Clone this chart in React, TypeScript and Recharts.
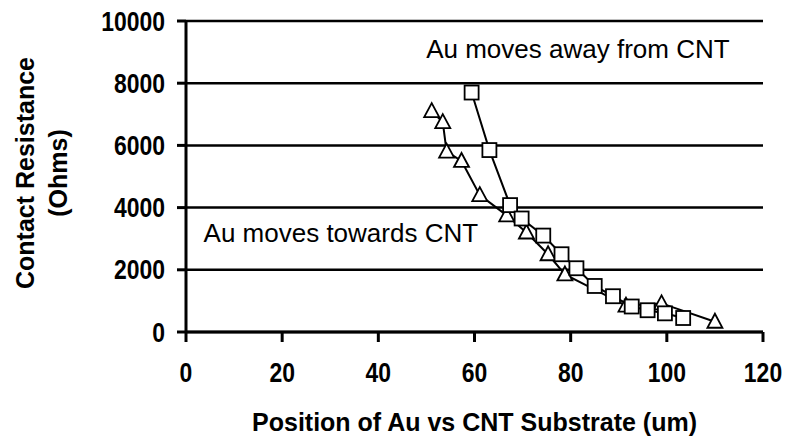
import React from 'react';
import { ScatterChart, Scatter, XAxis, YAxis, CartesianGrid, ReferenceDot } from 'recharts';

// Au moves towards CNT (triangles)
const towardsX = [51.1, 53.4, 54.2, 57.3, 61.1, 66.7, 70.8, 75.3, 78.8, 91.5, 98.9, 110];
const towardsY = [7100, 6750, 5800, 5500, 4400, 3750, 3200, 2500, 1850, 850, 920, 330];

// Au moves away from CNT (squares)
const awayX = [59.4, 63.1, 67.4, 69.8, 74.3, 78.1, 81.2, 85, 88.8, 92.7, 96, 99.6, 103.4];
const awayY = [7700, 5850, 4080, 3650, 3100, 2500, 2050, 1480, 1150, 820, 700, 600, 450];

const xTicks = [0, 20, 40, 60, 80, 100, 120];
const yTicks = [0, 2000, 4000, 6000, 8000, 10000];

const towardsData = towardsX.map((x, i) => ({ x, y: towardsY[i] }));
const awayData = awayX.map((x, i) => ({ x, y: awayY[i] }));

const FONT = '"Liberation Sans", Arial, sans-serif';

const Triangle = (props: any) => {
  const { cx, cy } = props;
  if (cx == null || cy == null) return null;
  return (
    <polygon
      points={`${cx},${cy - 8} ${cx - 7.5},${cy + 6} ${cx + 7.5},${cy + 6}`}
      fill="#fff"
      stroke="#000"
      strokeWidth={1.8}
    />
  );
};

const Square = (props: any) => {
  const { cx, cy } = props;
  if (cx == null || cy == null) return null;
  return <rect x={cx - 7} y={cy - 7} width={14} height={14} fill="#fff" stroke="#000" strokeWidth={1.8} />;
};

// condensed bold tick text, like the narrow face of the original
const NarrowTick = (props: any) => {
  const { x, y, payload, textAnchor, vertical } = props;
  return (
    <g transform={`translate(${x},${y})`}>
      <text
        transform="scale(0.85,1)"
        textAnchor={textAnchor}
        dy={vertical ? '0.355em' : '0.71em'}
        fill="#000"
        fontSize={27}
        fontWeight="bold"
        fontFamily={FONT}
      >
        {payload.value}
      </text>
    </g>
  );
};

const YTitle = () => (
  <g fontFamily={FONT} fontWeight="bold" fontSize={25} fill="#000">
    <text x={25} y={173} transform="rotate(-90, 25, 173)" textAnchor="middle" dy="0.35em">
      Contact Resistance
    </text>
    <text x={58} y={173} transform="rotate(-90, 58, 173)" textAnchor="middle" dy="0.35em">
      (Ohms)
    </text>
  </g>
);

export default function App() {
  return (
    <div style={{ position: 'absolute', left: 0, top: 0, width: 788, height: 445, background: '#fff' }}>
      <ScatterChart
        width={788}
        height={445}
        style={{ overflow: 'visible' }}
        margin={{ top: 21, right: 25, left: 86, bottom: 53 }}
      >
        <CartesianGrid vertical={false} stroke="#000" strokeWidth={2.5} />
        <XAxis
          dataKey="x"
          type="number"
          domain={[0, 120]}
          ticks={xTicks}
          height={60}
          tickSize={10}
          tickMargin={21}
          axisLine={{ stroke: '#000', strokeWidth: 3 }}
          tickLine={{ stroke: '#000', strokeWidth: 3 }}
          tick={<NarrowTick />}
          label={{
            value: 'Position of Au vs CNT Substrate (um)',
            position: 'bottom',
            offset: 21,
            fill: '#000',
            fontSize: 25,
            fontWeight: 'bold',
            fontFamily: FONT,
          }}
        />
        <YAxis
          dataKey="y"
          type="number"
          domain={[0, 10000]}
          ticks={yTicks}
          width={100}
          tickSize={9}
          tickMargin={12}
          axisLine={{ stroke: '#000', strokeWidth: 3 }}
          tickLine={{ stroke: '#000', strokeWidth: 3 }}
          tick={<NarrowTick vertical />}
          label={{ content: () => <YTitle /> }}
        />
        <Scatter
          data={towardsData}
          shape={<Triangle />}
          line={{ stroke: '#000', strokeWidth: 2 }}
          lineType="joint"
          isAnimationActive={false}
        />
        <Scatter
          data={awayData}
          shape={<Square />}
          line={{ stroke: '#000', strokeWidth: 2 }}
          lineType="joint"
          isAnimationActive={false}
        />
        <ReferenceDot
          x={81.5}
          y={9100}
          r={0}
          fill="none"
          stroke="none"
          label={{ value: 'Au moves away from CNT', position: 'center', fill: '#000', fontSize: 26, fontFamily: FONT }}
        />
        <ReferenceDot
          x={32.2}
          y={3180}
          r={0}
          fill="none"
          stroke="none"
          label={{ value: 'Au moves towards CNT', position: 'center', fill: '#000', fontSize: 26, fontFamily: FONT }}
        />
      </ScatterChart>
    </div>
  );
}
